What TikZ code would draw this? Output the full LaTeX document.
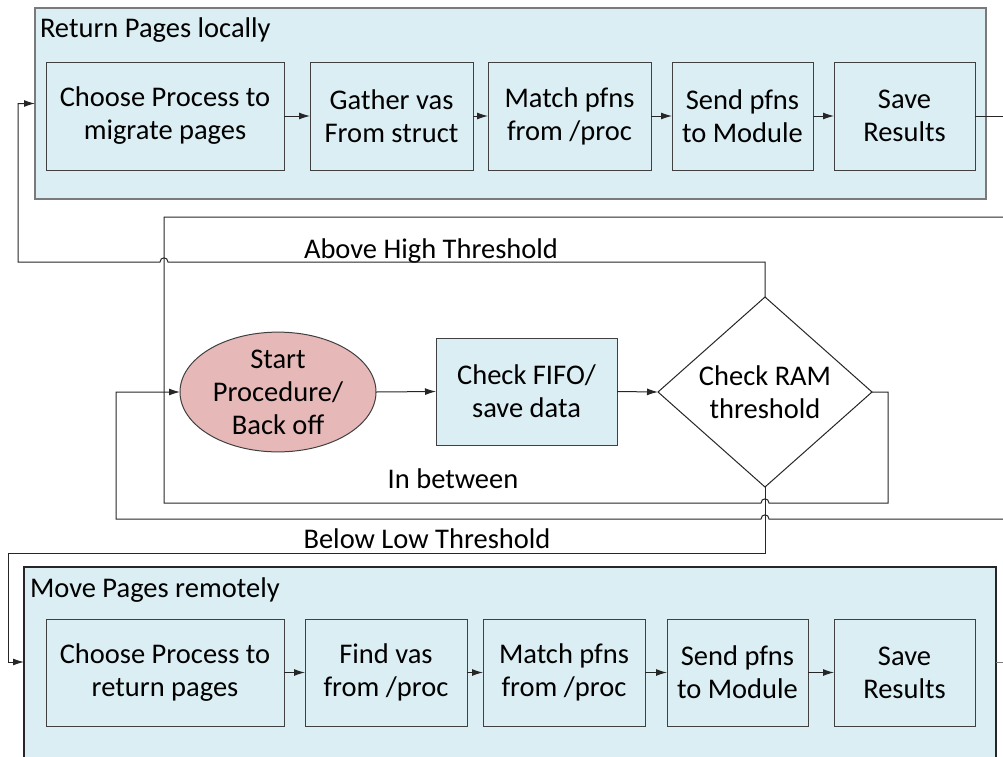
\documentclass[tikz,border=0pt]{standalone}
\usepackage{fontspec}
\setmainfont{Carlito}
\usetikzlibrary{shapes.geometric,arrows.meta}
\definecolor{paneblue}{HTML}{DAEEF3}
\definecolor{startred}{HTML}{E6B9B8}
\definecolor{edgedark}{HTML}{404040}
\definecolor{wire}{HTML}{262626}
\definecolor{wiregray}{HTML}{7A7A7A}
\begin{document}
\begin{tikzpicture}[x=1pt,y=-1pt,
  every node/.style={font=\fontsize{28.5}{33}\selectfont, text=black, inner sep=0pt, outer sep=0pt},
  pane/.style={draw=#1, fill=paneblue, line width=1.1pt},
  stepbox/.style={draw=edgedark, fill=paneblue, line width=1pt, align=center, minimum height=108},
  startnode/.style={ellipse, draw=edgedark, fill=startred, line width=1pt, align=center,
                    minimum width=196, minimum height=106},
  decision/.style={diamond, draw=wire, fill=white, line width=1pt, align=center,
                   aspect=1.126, minimum width=214, minimum height=190},
  conn/.style={draw=wire, line width=1pt},
  flow/.style={conn, -{Latex[length=11pt,width=7pt]}},
  lbl/.style={anchor=base}
]
\clip (0,0) rectangle (1003,756);
\useasboundingbox (0,0) rectangle (1003,756);

% upper group: return pages locally
\node[pane=wiregray, minimum width=951, minimum height=191] (top) at (510.5,103.5) {};
\node[anchor=base west] (toptitle) at (40,37) {Return Pages locally};
\node[stepbox, minimum width=238] (a1) at (165,116)   {Choose Process to\\migrate pages};
\node[stepbox, minimum width=163] (a2) at (391.5,116) {Gather vas\\From struct};
\node[stepbox, minimum width=163] (a3) at (569.5,116) {Match pfns\\from /proc};
\node[stepbox, minimum width=141] (a4) at (742.5,116) {Send pfns\\to Module};
\node[stepbox, minimum width=141] (a5) at (904.5,116) {Save\\Results};
\coordinate (outT) at (1003,116);

% lower group: move pages remotely
\node[pane=black!85, minimum width=972, minimum height=213] (bot) at (510,673.5) {};
\node[anchor=base west] (bottitle) at (30,597) {Move Pages remotely};
\node[stepbox, minimum width=238, minimum height=107] (b1) at (165,672.5)   {Choose Process to\\return pages};
\node[stepbox, minimum width=162, minimum height=107] (b2) at (386,672.5)   {Find vas\\from /proc};
\node[stepbox, minimum width=162, minimum height=107] (b3) at (564,672.5)   {Match pfns\\from /proc};
\node[stepbox, minimum width=141, minimum height=107] (b4) at (737.5,672.5) {Send pfns\\to Module};
\node[stepbox, minimum width=141, minimum height=107] (b5) at (904.5,672.5) {Save\\Results};
\coordinate (botOut) at (996,662);
\coordinate (outB) at (1003,662);
\coordinate (botIn) at (24,662);

% middle: control loop
\node[startnode] (start) at (278,392) {Start\\Procedure/\\Back off};
\node[stepbox, minimum width=181, minimum height=107] (fifo) at (526.5,391.5) {Check FIFO/\\save data};
\node[decision] (ram) at (765,392) {Check RAM\\threshold};

% labels of the three branches
\node[lbl] (lhigh) at (431,258) {Above High Threshold};
\node[lbl] (lmid)  at (453,488) {In between};
\node[lbl] (llow)  at (427,548) {Below Low Threshold};

% step chains
\foreach \p/\q in {a1/a2,a2/a3,a3/a4,a4/a5,b1/b2,b2/b3,b3/b4,b4/b5}
  \draw[flow] (\p.east) -- (\q.west);
\draw[conn] (a5.east) -- (outT);
\draw[conn, draw=wiregray] (botOut) -- (outB);

\draw[flow] (start.east) -- (fifo.west);
\draw[flow] (fifo.east) -- (ram.west);

% above high threshold -> return pages locally
\draw[flow] (ram.north) -- (765,262) -- (168,262)
  .. controls (168,256.5) and (160,256.5) .. (160,262)
  -- (18,262) |- (top.west);

% in between -> back to the loop
\draw[conn] (ram.east) -- (888,392) -- (888,503) -- (769,503)
  .. controls (769,497.5) and (761,497.5) .. (761,503)
  -- (164,503) -- (164,217) -- (1003,217);

% return into the start node
\draw[flow] (1003,519) -- (769,519)
  .. controls (769,513.5) and (761,513.5) .. (761,519)
  -- (116,519) -- (116,392) -- (start.west);

% below low threshold -> move pages remotely
\draw[flow] (ram.south) -- (765,553) -- (8,553) |- (botIn);
\end{tikzpicture}
\end{document}
